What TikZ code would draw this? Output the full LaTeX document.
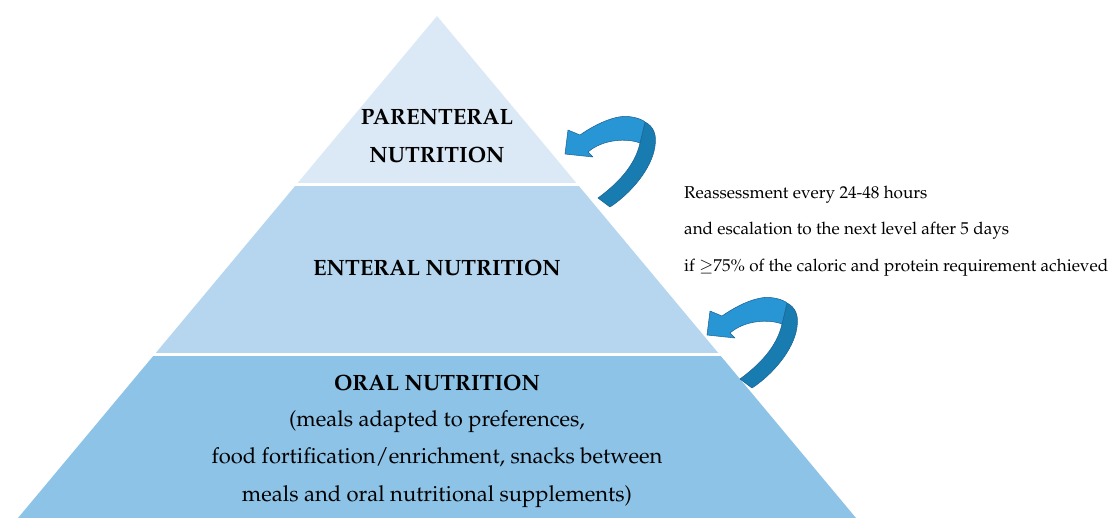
\documentclass[tikz,border=0pt]{standalone}
\usepackage[T1]{fontenc}
\usepackage{mathpazo}
\definecolor{tiertop}{RGB}{219,233,246}
\definecolor{tiermid}{RGB}{181,214,238}
\definecolor{tierbot}{RGB}{141,195,231}
\definecolor{arrowlight}{RGB}{40,150,212}
\definecolor{arrowdark}{RGB}{25,124,176}
\definecolor{arrowline}{RGB}{28,98,148}
\tikzset{
  tierlabel/.style={font=\bfseries\fontsize{12.6}{21.5}\selectfont, align=center},
  tiertext/.style={font=\fontsize{12.5}{21.5}\selectfont, align=center},
  note/.style={font=\fontsize{9.75}{20.7}\selectfont, align=left, anchor=west},
  ribbonfront/.style={fill=arrowlight, draw=arrowline, line width=0.3pt, line join=round},
  ribbonback/.style={fill=arrowdark, draw=arrowline, line width=0.3pt, line join=round}
}
\begin{document}
\begin{tikzpicture}[x=0.02cm,y=-0.02cm]
    \useasboundingbox (0,0) rectangle (1116,518);

    \coordinate (apex) at (437,16);
    \coordinate (baseL) at (18,518);
    \coordinate (baseR) at (856,518);

    \begin{scope}
        \clip (apex) -- (baseL) -- (baseR) -- cycle;
        \fill[tiertop] (0,0) rectangle (1116,182.5);
        \fill[tiermid] (0,185.5) rectangle (1116,352.5);
        \fill[tierbot] (0,355.5) rectangle (1116,518);
    \end{scope}

    \node[tierlabel] (parenteral) at (437,136) {PARENTERAL\\NUTRITION};
    \node[tierlabel] (enteral) at (437,268) {ENTERAL NUTRITION};
    \node[tierlabel] (oral) at (437,383) {ORAL NUTRITION};
    \node[tiertext] (oraltext) at (437,459) {(meals adapted to preferences,\\
        food fortification/enrichment, snacks between\\
        meals and oral nutritional supplements)};

    % curved arrows
    \foreach \ax/\ay in {565/154,707/335} {
        \begin{scope}[shift={(\ax,\ay)}]
            \draw[ribbonback] (80,-32) .. controls (88,-28) and (92,-20) .. (90,-8)
                .. controls (87,15) and (65,40) .. (45,53) -- (33,44)
                .. controls (52,30) and (70,12) .. (75,-11) -- cycle;
            \draw[ribbonfront] (15,-19) .. controls (35,-33) and (55,-40) .. (67,-37)
                .. controls (73,-36) and (78,-34) .. (80,-32)
                -- (75,-11) .. controls (62,-16) and (38,-15) .. (23,-2)
                -- (28,3) -- (0,0) -- (3,-24) -- cycle;
        \end{scope}
    }

    \node[note] (rule) at (678,231) {Reassessment every 24-48 hours\\
        and escalation to the next level after 5 days\\
        if $\geq$75\% of the caloric and protein requirement achieved};

\end{tikzpicture}
\end{document}
